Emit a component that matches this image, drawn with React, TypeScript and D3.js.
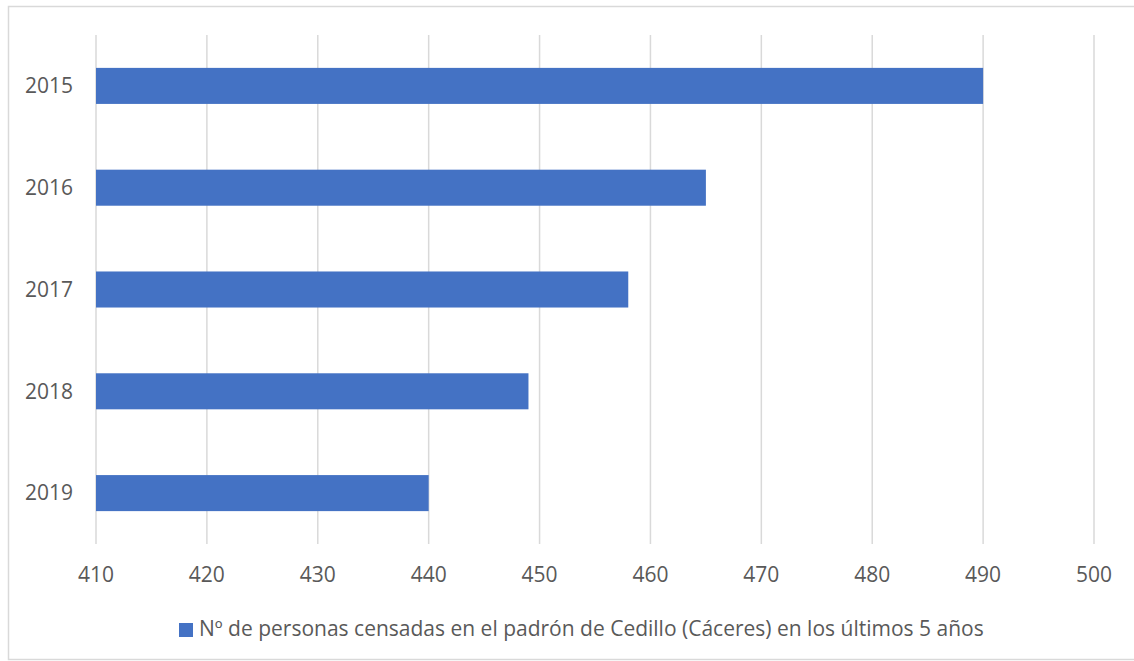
import { useEffect, useRef } from 'react';
import * as d3 from 'd3';

const years = ['2015', '2016', '2017', '2018', '2019'];
const personas = [490, 465, 458, 449, 440];
const xTicks = [410, 420, 430, 440, 450, 460, 470, 480, 490, 500];
const legendLabel = 'Nº de personas censadas en el padrón de Cedillo (Cáceres) en los últimos 5 años';

function App() {
    const chartRef = useRef(null);

    useEffect(() => {
        const svg = d3.select(chartRef.current);
        svg.selectAll('*').remove();

        const font = '"Open Sans", "Noto Sans", sans-serif';
        const textColor = '#595959';
        const gridColor = '#d9d9d9';
        const barColor = '#4472C4';

        const left = 96, right = 1094, top = 35, bottom = 544;

        const x = d3.scaleLinear().domain([410, 500]).range([left, right]);
        const y = d3.scaleBand().domain(years).range([top, bottom]).paddingInner(0.646).paddingOuter(0.323);

        // chart border (right side runs off the page)
        svg.append('rect')
            .attr('x', 8.5).attr('y', 6.5)
            .attr('width', 1200).attr('height', 653)
            .attr('fill', 'white')
            .attr('stroke', gridColor)
            .attr('stroke-width', 1.5);

        // vertical gridlines
        svg.append('g')
            .selectAll('line')
            .data(xTicks)
            .enter()
            .append('line')
            .attr('x1', (d) => x(d)).attr('x2', (d) => x(d))
            .attr('y1', top).attr('y2', bottom)
            .attr('stroke', gridColor)
            .attr('stroke-width', 1.5);

        // bars
        svg.append('g')
            .selectAll('rect')
            .data(years)
            .enter()
            .append('rect')
            .attr('x', x(410))
            .attr('y', (d) => y(d) as number)
            .attr('width', (d, i) => x(personas[i]) - x(410))
            .attr('height', y.bandwidth())
            .attr('fill', barColor);

        // category labels
        svg.append('g')
            .selectAll('text')
            .data(years)
            .enter()
            .append('text')
            .attr('x', 73)
            .attr('y', (d) => (y(d) as number) + y.bandwidth() / 2)
            .attr('dy', '0.35em')
            .attr('text-anchor', 'end')
            .attr('font-family', font)
            .attr('font-size', 21)
            .attr('fill', textColor)
            .text((d) => d);

        // x tick labels
        svg.append('g')
            .selectAll('text')
            .data(xTicks)
            .enter()
            .append('text')
            .attr('x', (d) => x(d))
            .attr('y', 575)
            .attr('dy', '0.35em')
            .attr('text-anchor', 'middle')
            .attr('font-family', font)
            .attr('font-size', 21)
            .attr('fill', textColor)
            .text((d) => d);

        // legend
        const legend = svg.append('g');
        legend.append('rect')
            .attr('x', 179).attr('y', 623)
            .attr('width', 14).attr('height', 14)
            .attr('fill', barColor);
        legend.append('text')
            .attr('x', 199)
            .attr('y', 629)
            .attr('dy', '0.35em')
            .attr('font-family', font)
            .attr('font-size', 21)
            .attr('fill', textColor)
            .text(legendLabel);
    }, []);

    return (
        <svg
            ref={chartRef}
            width="1134"
            height="661"
            style={{ position: 'absolute', left: 0, top: 0, background: 'white' }}
        ></svg>
    );
}

export default App;
